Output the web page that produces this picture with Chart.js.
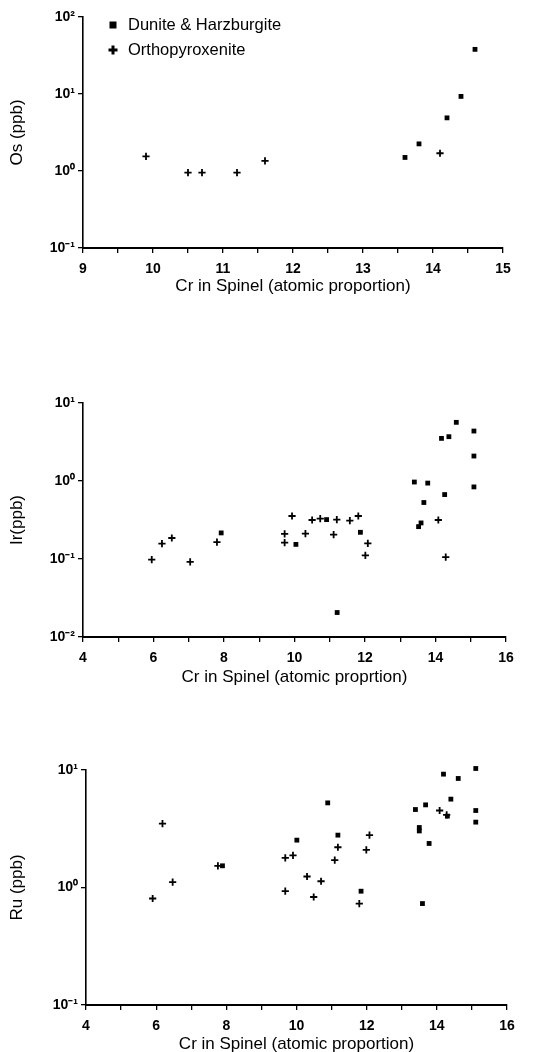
<!DOCTYPE html>
<html>
<head>
<meta charset="utf-8">
<script src="https://cdn.jsdelivr.net/npm/chart.js@4.4.1/dist/chart.umd.min.js"></script>
<style>
  html, body { margin: 0; padding: 0; background: #fff; overflow: hidden; }
  body { width: 536px; height: 1052px; position: relative; }
  canvas { position: absolute; left: 0; }
</style>
</head>
<body>
<canvas id="osChart" width="536" height="300" style="top:0px"></canvas>
<canvas id="irChart" width="536" height="360" style="top:330px"></canvas>
<canvas id="ruChart" width="536" height="345" style="top:720px"></canvas>
<script>
// data (Cr in spinel vs PGE, ppb)
const groupNames = ["Dunite & Harzburgite", "Orthopyroxenite"];

const osDunCr  = [13.6, 13.8, 14.2, 14.4, 14.6];
const osDunVal = [1.5, 2.25, 4.9, 9.3, 38];
const osOpxCr  = [9.9, 10.5, 10.7, 11.2, 11.6, 14.1];
const osOpxVal = [1.55, 0.95, 0.95, 0.95, 1.35, 1.7];

const irDunCr  = [7.92, 10.04, 10.91, 11.21, 11.87, 13.4, 13.78, 13.67, 13.52, 13.59, 14.26, 14.17, 14.38, 14.59, 15.09, 15.09, 15.09];
const irDunVal = [0.216, 0.154, 0.32, 0.0206, 0.22, 0.97, 0.94, 0.53, 0.26, 0.29, 0.67, 3.52, 3.7, 5.65, 4.37, 2.09, 0.84];
const irOpxCr  = [5.95, 6.24, 6.52, 7.04, 7.8, 9.72, 9.72, 9.93, 10.31, 10.5, 10.73, 11.11, 11.2, 11.57, 11.81, 12.08, 12.01, 14.08, 14.29];
const irOpxVal = [0.098, 0.157, 0.186, 0.092, 0.165, 0.21, 0.162, 0.356, 0.211, 0.316, 0.33, 0.205, 0.32, 0.31, 0.356, 0.159, 0.111, 0.316, 0.106];

const ruDunCr  = [7.89, 10.01, 10.89, 11.18, 11.84, 13.39, 13.68, 13.5, 13.5, 13.78, 13.59, 14.19, 14.4, 14.61, 15.11, 15.11, 15.11, 14.3];
const ruDunVal = [1.53, 2.53, 5.25, 2.79, 0.93, 4.61, 5.05, 3.24, 3.03, 2.37, 0.73, 9.22, 5.65, 8.47, 10.3, 4.52, 3.6, 4.05];
const ruOpxCr  = [5.9, 6.18, 6.47, 7.76, 9.68, 9.9, 9.68, 10.3, 10.49, 10.7, 11.09, 11.18, 11.99, 12.08, 11.79, 14.08, 14.28];
const ruOpxVal = [0.806, 3.5, 1.11, 1.53, 1.79, 1.88, 0.93, 1.24, 0.83, 1.13, 1.71, 2.2, 2.09, 2.79, 0.73, 4.52, 4.15];

const xTitleOs = "Cr in Spinel (atomic proportion)";
const xTitleIr = "Cr in Spinel (atomic proprtion)";
const xTitleRu = "Cr in Spinel (atomic proportion)";

const FONT = "'Liberation Sans', Arial, Helvetica, sans-serif";
const sup = { "-": "\u207B", "0": "\u2070", "1": "\u00B9", "2": "\u00B2" };
const powLabel = v => "10" + String(Math.round(Math.log10(v))).split("").map(c => sup[c]).join("");

const pts = (xs, ys) => xs.map((x, i) => ({ x, y: ys[i] }));

// legend drawn inside the plot area, top-left, like the original
const innerLegend = {
  id: "innerLegend",
  afterDraw(chart) {
    const ctx = chart.ctx;
    ctx.save();
    ctx.fillStyle = "#000";
    ctx.strokeStyle = "#000";
    // square marker
    ctx.fillRect(109.5, 21.5, 7, 7);
    // plus marker
    ctx.lineWidth = 3;
    ctx.beginPath();
    ctx.moveTo(108.5, 50); ctx.lineTo(117.5, 50);
    ctx.moveTo(113, 45.5); ctx.lineTo(113, 54.5);
    ctx.stroke();
    ctx.font = "16.5px " + FONT;
    ctx.textBaseline = "middle";
    ctx.fillText(groupNames[0], 128, 25);
    ctx.fillText(groupNames[1], 128, 50);
    ctx.restore();
  }
};

function makeChart(id, o) {
  new Chart(document.getElementById(id), {
    type: "scatter",
    data: {
      datasets: [
        {
          label: groupNames[0],
          data: pts(o.dunCr, o.dunVal),
          pointStyle: "rect",
          pointRadius: 3.4,
          backgroundColor: "#000",
          borderColor: "#000",
          borderWidth: 0,
          clip: false
        },
        {
          label: groupNames[1],
          data: pts(o.opxCr, o.opxVal),
          pointStyle: "cross",
          pointRadius: 3.6,
          borderColor: "#000",
          borderWidth: 1.8,
          clip: false
        }
      ]
    },
    options: {
      responsive: false,
      animation: false,
      devicePixelRatio: 1,
      layout: { autoPadding: false, padding: { left: 0, top: o.top, right: o.right, bottom: 0 } },
      plugins: { legend: { display: false }, tooltip: { enabled: false } },
      scales: {
        x: {
          type: "linear",
          min: o.xmin, max: o.xmax,
          afterFit: s => { s.height = o.xh; },
          grid: { drawOnChartArea: false, drawTicks: true, tickLength: 5, color: "#000", lineWidth: 1.3 },
          border: { color: "#000", width: 2 },
          ticks: {
            stepSize: o.step, autoSkip: false, maxRotation: 0, padding: 8,
            color: "#000", font: { family: FONT, size: 14, weight: "bold" },
            callback: v => (v % o.labelEvery === 0 ? String(v) : "")
          },
          title: {
            display: true, text: o.xTitle, color: "#000",
            font: { family: FONT, size: 17 }, padding: { top: 0, bottom: o.xTitlePad }
          }
        },
        y: {
          type: "logarithmic",
          min: o.ymin, max: o.ymax,
          afterFit: s => { s.width = o.left; },
          afterBuildTicks: s => { s.ticks = o.yTicks.map(v => ({ value: v })); },
          grid: { drawOnChartArea: false, drawTicks: true, tickLength: 5, color: "#000", lineWidth: 1.3 },
          border: { color: "#000", width: 1.6 },
          ticks: {
            padding: 3, color: "#000", font: { family: FONT, size: 14, weight: "bold" },
            callback: v => powLabel(v)
          },
          title: {
            display: true, text: o.yTitle, color: "#000",
            font: { family: FONT, size: 17 }, padding: { top: 7, bottom: 0 }
          }
        }
      }
    },
    plugins: o.legend ? [innerLegend] : []
  });
}

makeChart("osChart", {
  dunCr: osDunCr, dunVal: osDunVal, opxCr: osOpxCr, opxVal: osOpxVal,
  xmin: 9, xmax: 15, step: 0.5, labelEvery: 1,
  ymin: 0.1, ymax: 100, yTicks: [0.1, 1, 10, 100],
  left: 83, right: 33, top: 17, xh: 52, xTitlePad: 3,
  xTitle: xTitleOs, yTitle: "Os (ppb)", legend: true
});

makeChart("irChart", {
  dunCr: irDunCr, dunVal: irDunVal, opxCr: irOpxCr, opxVal: irOpxVal,
  xmin: 4, xmax: 16, step: 1, labelEvery: 2,
  ymin: 0.01, ymax: 10, yTicks: [0.01, 0.1, 1, 10],
  left: 83, right: 30, top: 73, xh: 53, xTitlePad: 2,
  xTitle: xTitleIr, yTitle: "Ir(ppb)", legend: false
});

makeChart("ruChart", {
  dunCr: ruDunCr, dunVal: ruDunVal, opxCr: ruOpxCr, opxVal: ruOpxVal,
  xmin: 4, xmax: 16, step: 1, labelEvery: 2,
  ymin: 0.1, ymax: 10, yTicks: [0.1, 1, 10],
  left: 86, right: 29, top: 50, xh: 60, xTitlePad: 10,
  xTitle: xTitleRu, yTitle: "Ru (ppb)", legend: false
});
</script>
</body>
</html>
